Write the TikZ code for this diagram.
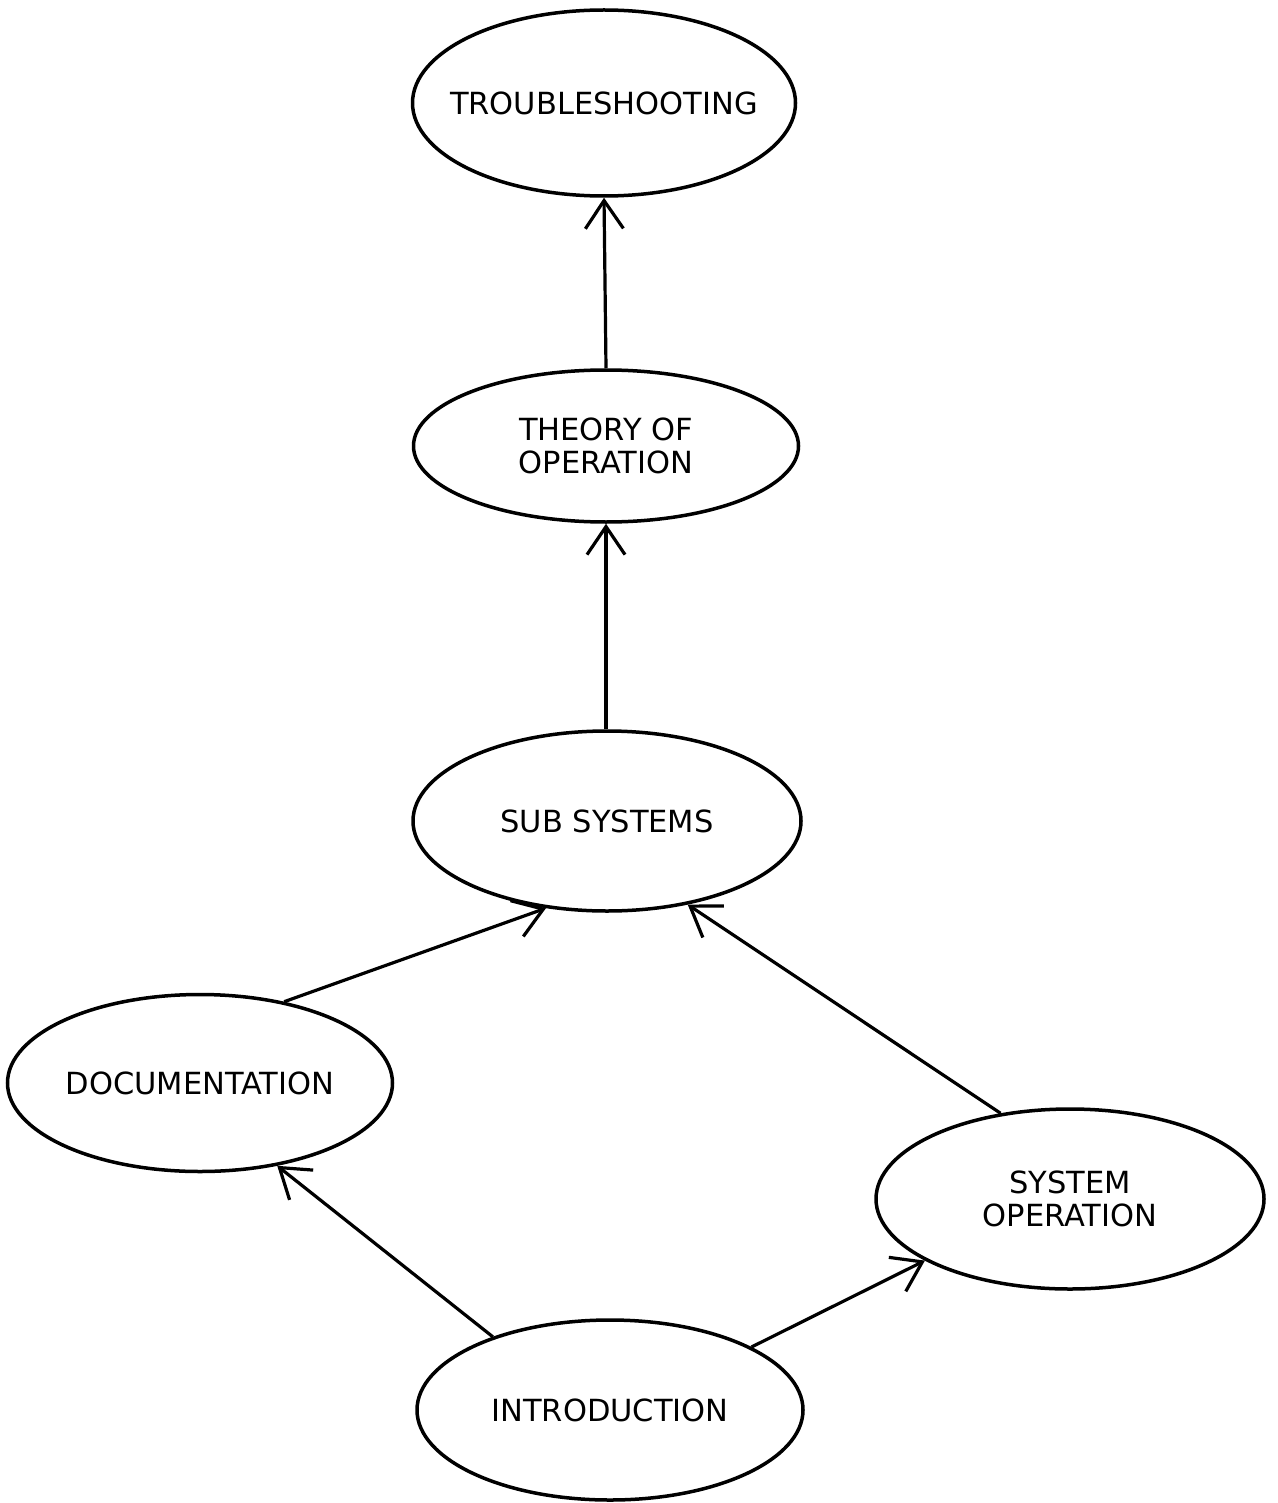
\documentclass[tikz,border=0pt]{standalone}
\usepackage{fontspec}
\setmainfont{DejaVu Sans}
\usetikzlibrary{shapes.geometric,arrows.meta}
\begin{document}
\begin{tikzpicture}[x=1pt,y=-1pt,
  bubble/.style={draw,ellipse,line width=3.5pt,inner sep=0pt},
  lbl/.style={font=\fontsize{30.5}{33}\selectfont,align=center,inner sep=0pt},
  link/.style={line width=3.2pt,-{Straight Barb[length=28pt,width=38pt,line width=3.2pt]}}]
\useasboundingbox (0,0) rectangle (1277,1503);
\node[bubble,minimum width=383pt,minimum height=186pt,
  label={[lbl]center:TROUBLESHOOTING}] (trb) at (604,103) {};
\node[bubble,minimum width=385pt,minimum height=152pt,
  label={[lbl]center:THEORY OF\\OPERATION}] (thy) at (606,446) {};
\node[bubble,minimum width=388pt,minimum height=180pt,
  label={[lbl]center:SUB SYSTEMS}] (sub) at (607,821) {};
\node[bubble,minimum width=385pt,minimum height=177pt,
  label={[lbl]center:DOCUMENTATION}] (doc) at (200,1083) {};
\node[bubble,minimum width=388pt,minimum height=180pt,
  label={[lbl]center:SYSTEM\\OPERATION}] (sop) at (1070,1199) {};
\node[bubble,minimum width=386pt,minimum height=180pt,
  label={[lbl]center:INTRODUCTION}] (intro) at (610,1410) {};
\draw[link] (intro.148) -- (doc.-47);
\draw[link] (intro.24) -- (sop.-157);
\draw[link] (doc.44) -- (sub.-125);
\draw[link] (sop.129) -- (sub.-46);
\draw[link] (sub.north -| thy.south) -- (thy.south);
\draw[link] (thy.north) -- (trb.south);
\end{tikzpicture}
\end{document}
